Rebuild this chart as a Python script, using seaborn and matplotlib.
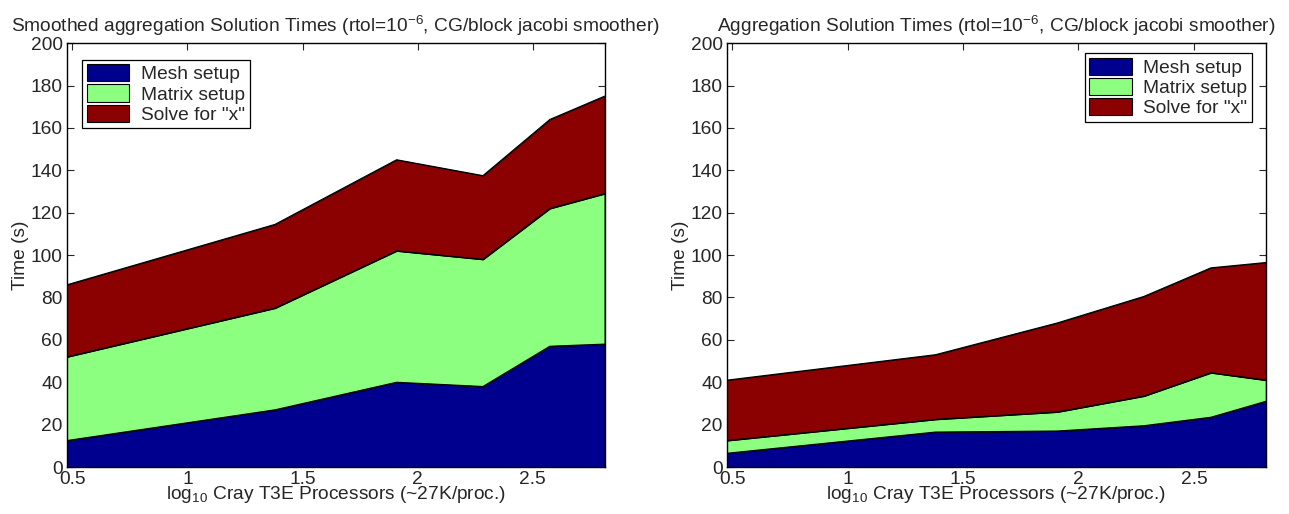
import numpy as np
import pandas as pd
import matplotlib
matplotlib.use("Agg")
import matplotlib.pyplot as plt
import seaborn as sns
from matplotlib.patches import Patch

# Data
processors = [3, 24, 81, 192, 375, 648]
series_names = ["Mesh setup", "Matrix setup", 'Solve for "x"']

sa_mesh = [12.5, 27, 40, 38, 57, 58]
sa_matrix = [39.5, 48, 62, 60, 65, 71]
sa_solve = [34, 39.5, 43, 39.5, 42, 46]

ag_mesh = [6.5, 16.5, 17, 19.5, 23.5, 31]
ag_matrix = [6, 6, 9, 14, 21, 10]
ag_solve = [28.5, 30.5, 42, 47, 49.5, 55.5]

titles = [
    "Smoothed aggregation Solution Times (rtol=10$^{-6}$, CG/block jacobi smoother)",
    "Aggregation Solution Times (rtol=10$^{-6}$, CG/block jacobi smoother)",
]
xtick_vals = [0.5, 1, 1.5, 2, 2.5]
xtick_labels = ["0.5", "1", "1.5", "2", "2.5"]
ytick_vals = list(range(0, 201, 20))

colors = ["#00008F", "#8CFF80", "#8B0000"]

sns.set_style("ticks")
plt.rcParams["font.family"] = ["Liberation Sans", "DejaVu Sans"]
plt.rcParams["mathtext.fontset"] = "custom"
plt.rcParams["mathtext.rm"] = "Liberation Sans"
plt.rcParams["mathtext.it"] = "Liberation Sans:italic"
plt.rcParams["mathtext.bf"] = "Liberation Sans:bold"

FS = 13.8

fig = plt.figure(figsize=(12.89, 5.14), dpi=100)
ax1 = fig.add_axes([0.052, 0.0914, 0.417, 0.8246])
ax2 = fig.add_axes([0.564, 0.0914, 0.418, 0.8246])

x = np.log10(np.array(processors, dtype=float))

datasets = [
    (ax1, [sa_mesh, sa_matrix, sa_solve], titles[0], "upper left", (0.018, 0.975)),
    (ax2, [ag_mesh, ag_matrix, ag_solve], titles[1], "upper right", (0.985, 0.99)),
]

for ax, comps, title, loc, anchor in datasets:
    ax.stackplot(x, *comps, colors=colors, edgecolor="black", linewidth=0.7)
    cum = np.cumsum(np.array(comps, dtype=float), axis=0)
    for i in range(cum.shape[0]):
        df = pd.DataFrame({"x": x, "y": cum[i]})
        sns.lineplot(data=df, x="x", y="y", ax=ax, color="black", linewidth=0.8)
    ax.set_xlim(x[0], x[-1])
    ax.set_ylim(0, 200)
    ax.set_xticks(xtick_vals)
    ax.set_xticklabels(xtick_labels)
    ax.set_yticks(ytick_vals)
    ax.tick_params(direction="in", top=True, right=True, length=5, width=0.8,
                   labelsize=FS, pad=3)
    for s in ax.spines.values():
        s.set_linewidth(1.0)
        s.set_color("black")
    ax.set_title(title, fontsize=FS, pad=8)
    ax.set_xlabel("log$_{10}$ Cray T3E Processors (~27K/proc.)", fontsize=FS, labelpad=-3)
    ax.set_ylabel("Time (s)", fontsize=FS, labelpad=1)
    handles = [Patch(facecolor=c, edgecolor="black", linewidth=0.8) for c in colors]
    leg = ax.legend(handles, series_names, loc=loc, bbox_to_anchor=anchor, fontsize=FS,
                    frameon=True, fancybox=False, edgecolor="black", framealpha=1,
                    handlelength=2.2, handleheight=1.0, handletextpad=0.6,
                    labelspacing=0.05, borderpad=0.25, borderaxespad=0.3)
    leg.get_frame().set_linewidth(0.9)

fig.savefig("out.png", dpi=100)
